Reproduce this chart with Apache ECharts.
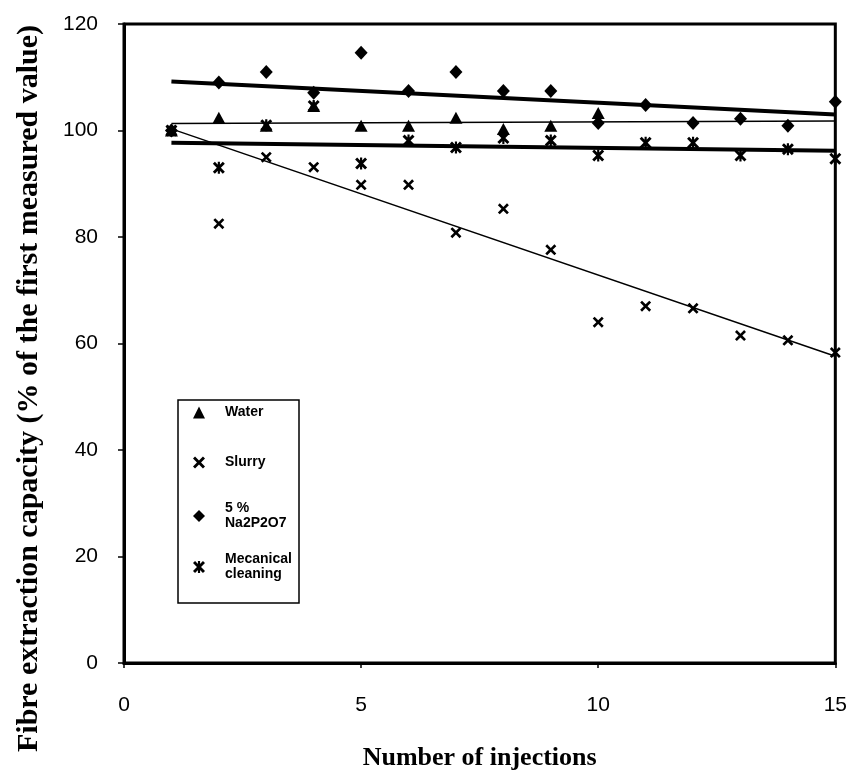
<!DOCTYPE html>
<html>
<head>
<meta charset="utf-8">
<script src="https://cdn.jsdelivr.net/npm/echarts@6/dist/echarts.min.js"></script>
<style>
html,body{margin:0;padding:0;background:#fff;}
#chart{width:850px;height:778px;}
</style>
</head>
<body>
<div id="chart"></div>
<script>
// values
var injections = [1, 2, 3, 4, 5, 6, 7, 8, 9, 10, 11, 12, 13, 14, 15];
var waterX = [1, 2, 3, 4, 5, 6, 7, 8, 9, 10];
var water = [100, 102.4, 100.9, 104.6, 100.9, 100.9, 102.4, 100.3, 100.9, 103.3];
var slurry = [100, 82.5, 95.0, 93.1, 89.8, 89.8, 80.8, 85.3, 77.6, 64.0, 67.0, 66.6, 61.5, 60.6, 58.3];
var na2p2o7 = [100, 109.0, 111.0, 107.1, 114.6, 107.4, 111.0, 107.4, 107.4, 101.4, 104.8, 101.4, 102.2, 100.9, 105.4];
var mechanical = [100, 93.0, 101.0, 104.6, 93.8, 98.1, 96.8, 98.6, 98.1, 95.3, 97.7, 97.7, 95.3, 96.5, 94.7];
// linear trend lines, ends at x=1 and x=15
var trendX = [1, 15];
var waterTrend = [101.3, 101.8];
var slurryTrend = [100.3, 57.6];
var naTrend = [109.2, 103.0];
var mechTrend = [97.7, 96.2];
var names = ['Water', 'Slurry', '5 %\nNa2P2O7', 'Mecanical\ncleaning'];

function pairs(xs, ys){
	var out = [];
	for (var i = 0; i < ys.length; i++) out.push([xs[i], ys[i]]);
	return out;
}

var crossPath = 'path://M0,1.7L1.7,0L5,3.3L8.3,0L10,1.7L6.7,5L10,8.3L8.3,10L5,6.7L1.7,10L0,8.3L3.3,5Z';
var starPath = 'path://M0,1.7L1.7,0L5,3.3L8.3,0L10,1.7L6.7,5L10,8.3L8.3,10L5,6.7L1.7,10L0,8.3L3.3,5Z M4.1,0L5.9,0L5.9,10L4.1,10Z';

var chart = echarts.init(document.getElementById('chart'));

function trend(ys, w){
	return {
		type: 'line',
		data: pairs(trendX, ys),
		showSymbol: false,
		symbol: 'none',
		silent: true,
		z: 2,
		lineStyle: {color: '#000', width: w}
	};
}

function oneLegend(name, top){
	return {
		data: [name],
		left: 193,
		top: top,
		orient: 'vertical',
		padding: 0,
		itemWidth: 12,
		itemHeight: 12,
		selectedMode: false,
		textStyle: {
			fontFamily: 'Liberation Sans',
			fontSize: 14,
			fontWeight: 'bold',
			lineHeight: 15,
			color: '#000',
			padding: [0, 0, 0, 15]
		}
	};
}

var dot = {color: '#000', opacity: 1};

var option = {
	animation: false,
	backgroundColor: '#fff',
	grid: {
		left: 124, right: 12, top: 24, bottom: 115,
		show: true, borderColor: '#000', borderWidth: 3
	},
	legend: [
		oneLegend(names[0], 405),
		oneLegend(names[1], 455),
		oneLegend(names[2], 501),
		oneLegend(names[3], 552)
	],
	graphic: [{
		type: 'rect',
		z: 3,
		shape: {x: 178, y: 400, width: 121, height: 203},
		style: {fill: '#fff', stroke: '#000', lineWidth: 1.5}
	}],
	xAxis: {
		type: 'value',
		min: 0, max: 15, interval: 5,
		name: 'Number of injections',
		nameLocation: 'middle',
		nameGap: 82,
		nameTextStyle: {fontFamily: 'Liberation Serif', fontWeight: 'bold', fontSize: 26, color: '#000'},
		axisLine: {lineStyle: {color: '#000', width: 3}},
		axisTick: {length: 5, lineStyle: {color: '#000', width: 1.5}},
		splitLine: {show: false},
		axisLabel: {fontFamily: 'Liberation Sans', fontSize: 21, color: '#000', margin: 32}
	},
	yAxis: {
		type: 'value',
		min: 0, max: 120, interval: 20,
		name: 'Fibre extraction capacity (% of the first measured value)',
		nameLocation: 'middle',
		nameGap: 80,
		nameTextStyle: {fontFamily: 'Liberation Serif', fontWeight: 'bold', fontSize: 30, color: '#000', padding: [0, 90, 0, 0]},
		axisLine: {lineStyle: {color: '#000', width: 3}},
		axisTick: {length: 6, lineStyle: {color: '#000', width: 1.5}},
		splitLine: {show: false},
		axisLabel: {fontFamily: 'Liberation Sans', fontSize: 21, color: '#000', margin: 26}
	},
	series: [
		trend(naTrend, 4),
		trend(waterTrend, 1.5),
		trend(mechTrend, 4),
		trend(slurryTrend, 1.5),
		{
			name: names[0], type: 'scatter', z: 5,
			symbol: 'triangle', symbolSize: [13, 12],
			itemStyle: dot,
			data: pairs(waterX, water)
		},
		{
			name: names[1], type: 'scatter', z: 5,
			symbol: crossPath, symbolSize: 11,
			itemStyle: dot,
			data: pairs(injections, slurry)
		},
		{
			name: names[2], type: 'scatter', z: 5,
			symbol: 'diamond', symbolSize: [13, 14],
			itemStyle: dot,
			data: pairs(injections, na2p2o7)
		},
		{
			name: names[3], type: 'scatter', z: 5,
			symbol: starPath, symbolSize: 12,
			itemStyle: dot,
			data: pairs(injections, mechanical)
		}
	]
};
chart.setOption(option);
</script>
</body>
</html>
